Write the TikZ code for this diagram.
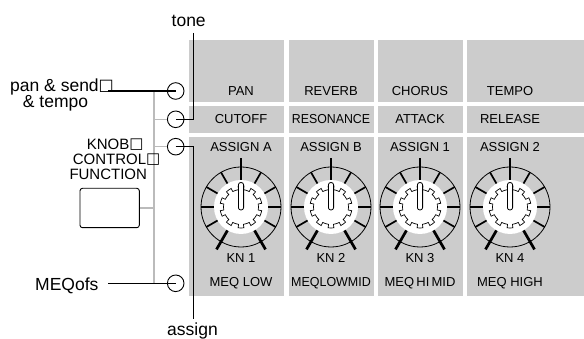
\documentclass[tikz,border=0pt]{standalone}
\usepackage{fontspec}
\setmainfont{Liberation Sans}
\newfontfamily\symfont{DejaVu Sans}
\definecolor{panel}{HTML}{CCCCCC}
\definecolor{tree}{HTML}{BBBBBB}
\newcommand{\missbox}[2]{\raisebox{#2}{\symfont\fontsize{#1}{#1}\selectfont □}}
\tikzset{
  knob/.pic={
    \draw[line width=0.8pt] (0,0) circle (40);
    \foreach \a in {-30,0,30,60,120,150,180,210} \draw[line width=1.7pt] (\a:26) -- (\a:40);
    \foreach \a in {-60,90,240} \draw[line width=2.7pt] (\a:26) -- (\a:49);
    \fill[white] (0,0) circle (27);
    \draw[fill=white, line width=0.7pt] (82:21)
      \foreach \k in {0,...,9}{
        arc[start angle={82+36*\k}, end angle={98+36*\k}, radius=21]
        -- ({98+36*\k}:17.5)
        arc[start angle={98+36*\k}, end angle={118+36*\k}, radius=17.5]
        -- ({118+36*\k}:21)
      } -- cycle;
    \draw[fill=white, line width=0.8pt, rounded corners=2.4pt] (-2.6,-3) rectangle (2.6,24.5);
  }
}
\begin{document}
\begin{tikzpicture}[x=1pt,y=1pt,
  lbl/.style={inner sep=0pt, anchor=base, font=\fontsize{13}{15}\selectfont},
  big/.style={inner sep=0pt, font=\fontsize{17.5}{20}\selectfont},
  mid/.style={inner sep=0pt, anchor=base west, font=\fontsize{15}{17}\selectfont},
  port/.style={circle, draw, line width=0.9pt, minimum size=16.6pt, inner sep=0pt},
  conn/.style={line width=1.2pt},
  branch/.style={draw=tree, line width=1.2pt},
  fnbox/.style={draw, rounded corners=2.5pt, line width=0.9pt, minimum width=59.3pt, minimum height=39.4pt, inner sep=0pt}
]
\useasboundingbox (0,0) rectangle (584,339);
% panel cells
\foreach \xa/\xb in {189/284, 289/374, 378/463, 467/584} {
  \fill[panel] (\xa,237) rectangle (\xb,299);
  \fill[panel] (\xa,206) rectangle (\xb,233);
  \fill[panel] (\xa,43) rectangle (\xb,202);
}
% knobs
\pic (k1) at (241,132) {knob};
\pic (k2) at (331,132) {knob};
\pic (k3) at (420,132) {knob};
\pic (k4) at (510,132) {knob};
% panel labels
\node[lbl] (pan) at (241,243) {PAN};
\node[lbl] (reverb) at (331,243) {REVERB};
\node[lbl] (chorus) at (420,243) {CHORUS};
\node[lbl] (tempo) at (510,243) {TEMPO};
\node[lbl] (cutoff) at (241,215) {CUTOFF};
\node[lbl] (reso) at (331,215) {\scalebox{0.95}[1]{RESONANCE}};
\node[lbl] (attack) at (420,215) {ATTACK};
\node[lbl] (release) at (510,215) {RELEASE};
\node[lbl] (asa) at (241,187.3) {ASSIGN A};
\node[lbl] (asb) at (331,187.3) {ASSIGN B};
\node[lbl] (as1) at (420,187.3) {ASSIGN 1};
\node[lbl] (as2) at (510,187.3) {ASSIGN 2};
\node[lbl] (kn1) at (241,76.3) {KN 1};
\node[lbl] (kn2) at (331,76.3) {KN 2};
\node[lbl] (kn3) at (420,76.3) {KN 3};
\node[lbl] (kn4) at (510,76.3) {KN 4};
\node[lbl] (m1) at (241,52.3) {MEQ LOW};
\node[lbl] (m2) at (331,52.3) {\scalebox{0.96}[1]{MEQLOWMID}};
\node[lbl] (m3) at (420,52.3) {MEQ\,HI\,MID};
\node[lbl] (m4) at (510,52.3) {MEQ HIGH};
% left tree
\coordinate (treetop) at (154,248);
\coordinate (treebot) at (154,55.7);
\node[fnbox] (fbox) at (109.65,131) {};
\draw[branch] (treetop) -- (treebot);
\node[port] (c1) at (175.7,248) {};
\node[port] (c2) at (175.7,219.7) {};
\node[port] (c3) at (175.7,192.3) {};
\node[port] (c4) at (175.7,55.7) {};
\draw[branch] (c2.west -| treetop) -- (c2.west);
\draw[branch] (c3.west -| treetop) -- (c3.west);
\draw[branch] (c4.west -| treetop) -- (c4.west);
\draw[branch] (fbox.east) -- (fbox.east -| treetop);
% text labels
\node[big, anchor=base west] (pansend) at (10,247.3) {pan \& send\missbox{16}{1pt}};
\node[big, anchor=base west] (andtempo) at (22.7,231.3) {\& tempo};
\node[big, anchor=base] (tone) at (188.7,312.3) {tone};
\node[big, anchor=base west] (assign) at (167,3) {assign};
\node[big, anchor=base west] (meqofs) at (35,48.3) {MEQofs};
\node[mid] (knob) at (86.7,189.7) {KNOB\missbox{15}{0.5pt}};
\node[mid] (control) at (72.7,174.7) {CONTROL\missbox{15}{0.5pt}};
\node[mid] (function) at (69.3,159) {FUNCTION};
% connectors
\coordinate (panend) at (108,248);
\coordinate (tonetop) at (193.3,306);
\coordinate (assignbot) at (193.3,20);
\coordinate (meqend) at (108,55.7);
\draw[conn] (panend) -- (c1.center);
\draw[conn] (tonetop) |- (c2.center);
\draw[conn] (c3.center) -| (assignbot);
\draw[conn] (meqend) -- (c4.center);
\end{tikzpicture}
\end{document}
